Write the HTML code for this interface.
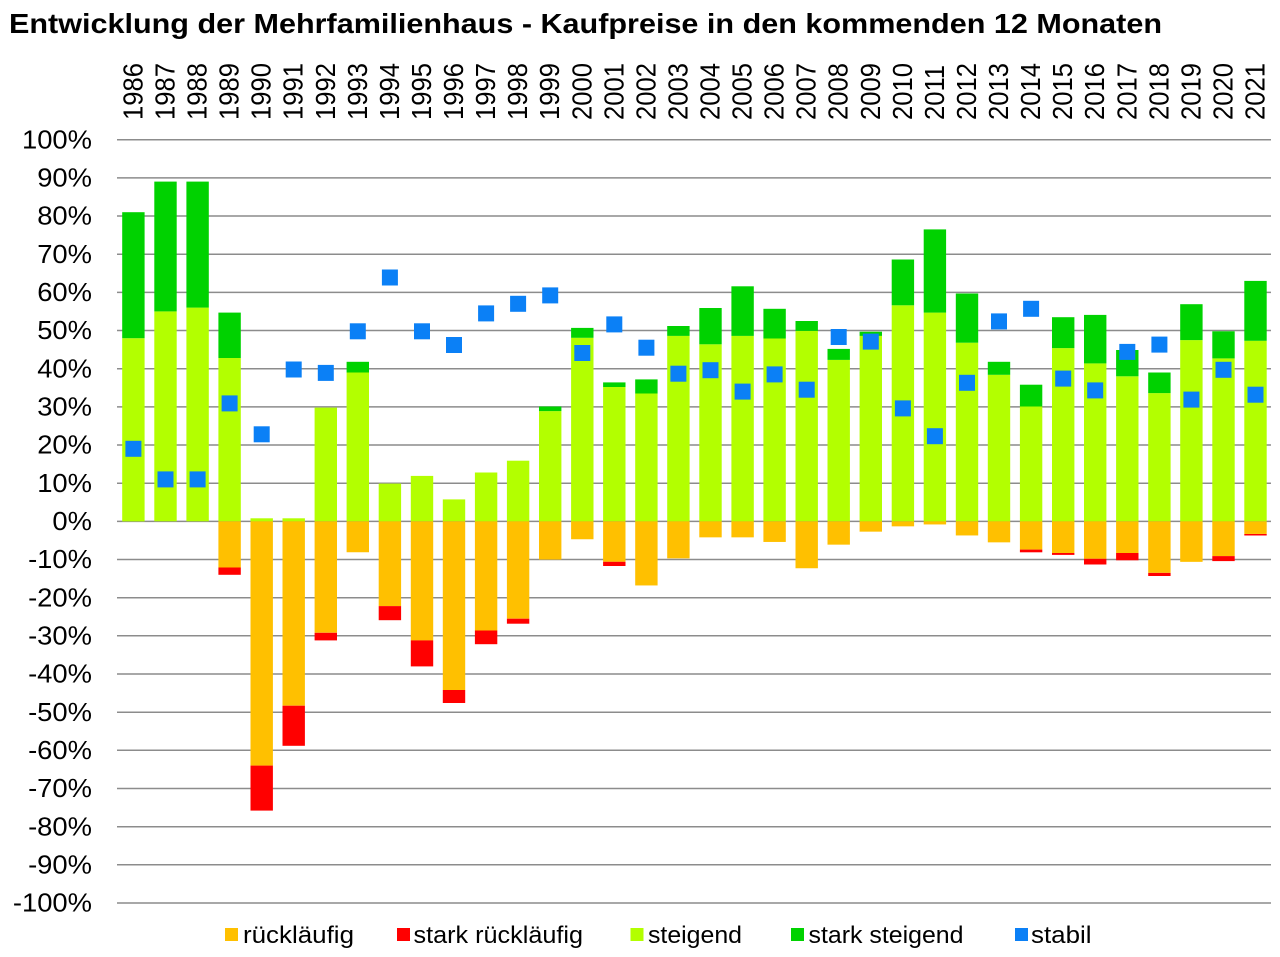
<!DOCTYPE html>
<html>
<head>
<meta charset="utf-8">
<style>
html,body{margin:0;padding:0;background:#fff}
svg{display:block}
</style>
</head>
<body>
<svg width="1280" height="957" viewBox="0 0 1280 957" xmlns="http://www.w3.org/2000/svg" font-family="'Liberation Sans', Arial, sans-serif">
<rect x="0" y="0" width="1280" height="957" fill="#fff"/>

<!-- Title -->
<text x="9" y="33" font-size="28" font-weight="bold" fill="#000" textLength="1153" lengthAdjust="spacingAndGlyphs">Entwicklung der Mehrfamilienhaus - Kaufpreise in den kommenden 12 Monaten</text>

<!-- Gridlines -->
<g stroke="#8c8c8c" stroke-width="1.5">
<line x1="117" x2="1271" y1="139.7" y2="139.7"/>
<line x1="117" x2="1271" y1="177.9" y2="177.9"/>
<line x1="117" x2="1271" y1="216.0" y2="216.0"/>
<line x1="117" x2="1271" y1="254.2" y2="254.2"/>
<line x1="117" x2="1271" y1="292.4" y2="292.4"/>
<line x1="117" x2="1271" y1="330.5" y2="330.5"/>
<line x1="117" x2="1271" y1="368.7" y2="368.7"/>
<line x1="117" x2="1271" y1="406.9" y2="406.9"/>
<line x1="117" x2="1271" y1="445.0" y2="445.0"/>
<line x1="117" x2="1271" y1="483.2" y2="483.2"/>
<line x1="117" x2="1271" y1="521.4" y2="521.4"/>
<line x1="117" x2="1271" y1="559.5" y2="559.5"/>
<line x1="117" x2="1271" y1="597.7" y2="597.7"/>
<line x1="117" x2="1271" y1="635.8" y2="635.8"/>
<line x1="117" x2="1271" y1="674.0" y2="674.0"/>
<line x1="117" x2="1271" y1="712.2" y2="712.2"/>
<line x1="117" x2="1271" y1="750.3" y2="750.3"/>
<line x1="117" x2="1271" y1="788.5" y2="788.5"/>
<line x1="117" x2="1271" y1="826.7" y2="826.7"/>
<line x1="117" x2="1271" y1="864.8" y2="864.8"/>
<line x1="117" x2="1271" y1="903.0" y2="903.0"/>
</g>

<!-- Y axis labels -->
<g font-size="25.6" fill="#000" text-anchor="end">
<text transform="translate(92 148.4) scale(1.07 1)">100%</text>
<text transform="translate(92 186.6) scale(1.07 1)">90%</text>
<text transform="translate(92 224.7) scale(1.07 1)">80%</text>
<text transform="translate(92 262.9) scale(1.07 1)">70%</text>
<text transform="translate(92 301.1) scale(1.07 1)">60%</text>
<text transform="translate(92 339.2) scale(1.07 1)">50%</text>
<text transform="translate(92 377.4) scale(1.07 1)">40%</text>
<text transform="translate(92 415.6) scale(1.07 1)">30%</text>
<text transform="translate(92 453.7) scale(1.07 1)">20%</text>
<text transform="translate(92 491.9) scale(1.07 1)">10%</text>
<text transform="translate(92 530.1) scale(1.07 1)">0%</text>
<text transform="translate(92 568.2) scale(1.07 1)">-10%</text>
<text transform="translate(92 606.4) scale(1.07 1)">-20%</text>
<text transform="translate(92 644.5) scale(1.07 1)">-30%</text>
<text transform="translate(92 682.7) scale(1.07 1)">-40%</text>
<text transform="translate(92 720.9) scale(1.07 1)">-50%</text>
<text transform="translate(92 759.0) scale(1.07 1)">-60%</text>
<text transform="translate(92 797.2) scale(1.07 1)">-70%</text>
<text transform="translate(92 835.4) scale(1.07 1)">-80%</text>
<text transform="translate(92 873.5) scale(1.07 1)">-90%</text>
<text transform="translate(92 911.7) scale(1.07 1)">-100%</text>
</g>

<!-- Year labels -->
<g font-size="25.6" fill="#000">
<text transform="translate(142.4 120) scale(1.07 1) rotate(-90)">1986</text>
<text transform="translate(174.5 120) scale(1.07 1) rotate(-90)">1987</text>
<text transform="translate(206.6 120) scale(1.07 1) rotate(-90)">1988</text>
<text transform="translate(238.6 120) scale(1.07 1) rotate(-90)">1989</text>
<text transform="translate(270.7 120) scale(1.07 1) rotate(-90)">1990</text>
<text transform="translate(302.7 120) scale(1.07 1) rotate(-90)">1991</text>
<text transform="translate(334.8 120) scale(1.07 1) rotate(-90)">1992</text>
<text transform="translate(366.8 120) scale(1.07 1) rotate(-90)">1993</text>
<text transform="translate(398.9 120) scale(1.07 1) rotate(-90)">1994</text>
<text transform="translate(431.0 120) scale(1.07 1) rotate(-90)">1995</text>
<text transform="translate(463.0 120) scale(1.07 1) rotate(-90)">1996</text>
<text transform="translate(495.1 120) scale(1.07 1) rotate(-90)">1997</text>
<text transform="translate(527.1 120) scale(1.07 1) rotate(-90)">1998</text>
<text transform="translate(559.2 120) scale(1.07 1) rotate(-90)">1999</text>
<text transform="translate(591.3 120) scale(1.07 1) rotate(-90)">2000</text>
<text transform="translate(623.3 120) scale(1.07 1) rotate(-90)">2001</text>
<text transform="translate(655.4 120) scale(1.07 1) rotate(-90)">2002</text>
<text transform="translate(687.4 120) scale(1.07 1) rotate(-90)">2003</text>
<text transform="translate(719.5 120) scale(1.07 1) rotate(-90)">2004</text>
<text transform="translate(751.6 120) scale(1.07 1) rotate(-90)">2005</text>
<text transform="translate(783.6 120) scale(1.07 1) rotate(-90)">2006</text>
<text transform="translate(815.7 120) scale(1.07 1) rotate(-90)">2007</text>
<text transform="translate(847.7 120) scale(1.07 1) rotate(-90)">2008</text>
<text transform="translate(879.8 120) scale(1.07 1) rotate(-90)">2009</text>
<text transform="translate(911.9 120) scale(1.07 1) rotate(-90)">2010</text>
<text transform="translate(943.9 120) scale(1.07 1) rotate(-90)">2011</text>
<text transform="translate(976.0 120) scale(1.07 1) rotate(-90)">2012</text>
<text transform="translate(1008.0 120) scale(1.07 1) rotate(-90)">2013</text>
<text transform="translate(1040.1 120) scale(1.07 1) rotate(-90)">2014</text>
<text transform="translate(1072.2 120) scale(1.07 1) rotate(-90)">2015</text>
<text transform="translate(1104.2 120) scale(1.07 1) rotate(-90)">2016</text>
<text transform="translate(1136.3 120) scale(1.07 1) rotate(-90)">2017</text>
<text transform="translate(1168.4 120) scale(1.07 1) rotate(-90)">2018</text>
<text transform="translate(1200.4 120) scale(1.07 1) rotate(-90)">2019</text>
<text transform="translate(1232.5 120) scale(1.07 1) rotate(-90)">2020</text>
<text transform="translate(1264.5 120) scale(1.07 1) rotate(-90)">2021</text>
</g>

<!-- steigend -->
<g fill="#b3ff00">
<rect x="122.2" y="338.2" width="22.4" height="183.2"/>
<rect x="154.3" y="311.4" width="22.4" height="209.9"/>
<rect x="186.4" y="307.6" width="22.4" height="213.7"/>
<rect x="218.4" y="358.0" width="22.4" height="163.3"/>
<rect x="250.5" y="518.3" width="22.4" height="3.1"/>
<rect x="282.5" y="518.3" width="22.4" height="3.1"/>
<rect x="314.6" y="407.6" width="22.4" height="113.7"/>
<rect x="346.6" y="372.5" width="22.4" height="148.8"/>
<rect x="378.7" y="483.6" width="22.4" height="37.8"/>
<rect x="410.8" y="475.9" width="22.4" height="45.4"/>
<rect x="442.8" y="499.4" width="22.4" height="21.9"/>
<rect x="474.9" y="472.5" width="22.4" height="48.9"/>
<rect x="506.9" y="460.7" width="22.4" height="60.7"/>
<rect x="539.0" y="411.1" width="22.4" height="110.3"/>
<rect x="571.1" y="337.8" width="22.4" height="183.6"/>
<rect x="603.1" y="387.0" width="22.4" height="134.3"/>
<rect x="635.2" y="393.5" width="22.4" height="127.9"/>
<rect x="667.2" y="335.9" width="22.4" height="185.5"/>
<rect x="699.3" y="344.3" width="22.4" height="177.1"/>
<rect x="731.4" y="335.9" width="22.4" height="185.5"/>
<rect x="763.4" y="338.5" width="22.4" height="182.8"/>
<rect x="795.5" y="330.9" width="22.4" height="190.4"/>
<rect x="827.5" y="359.9" width="22.4" height="161.4"/>
<rect x="859.6" y="335.9" width="22.4" height="185.5"/>
<rect x="891.7" y="305.3" width="22.4" height="216.0"/>
<rect x="923.7" y="312.6" width="22.4" height="208.8"/>
<rect x="955.8" y="342.7" width="22.4" height="178.6"/>
<rect x="987.8" y="374.8" width="22.4" height="146.6"/>
<rect x="1019.9" y="406.5" width="22.4" height="114.9"/>
<rect x="1052.0" y="348.1" width="22.4" height="173.3"/>
<rect x="1084.0" y="363.4" width="22.4" height="158.0"/>
<rect x="1116.1" y="376.3" width="22.4" height="145.0"/>
<rect x="1148.2" y="393.1" width="22.4" height="128.2"/>
<rect x="1180.2" y="340.1" width="22.4" height="181.3"/>
<rect x="1212.3" y="358.4" width="22.4" height="163.0"/>
<rect x="1244.3" y="340.8" width="22.4" height="180.5"/>
</g>

<!-- stark steigend -->
<g fill="#00d200">
<rect x="122.2" y="212.2" width="22.4" height="126.0"/>
<rect x="154.3" y="181.6" width="22.4" height="129.8"/>
<rect x="186.4" y="181.6" width="22.4" height="126.0"/>
<rect x="218.4" y="312.6" width="22.4" height="45.4"/>
<rect x="346.6" y="361.8" width="22.4" height="10.7"/>
<rect x="539.0" y="406.5" width="22.4" height="4.6"/>
<rect x="571.1" y="327.9" width="22.4" height="9.9"/>
<rect x="603.1" y="382.4" width="22.4" height="4.6"/>
<rect x="635.2" y="379.4" width="22.4" height="14.1"/>
<rect x="667.2" y="326.0" width="22.4" height="9.9"/>
<rect x="699.3" y="308.0" width="22.4" height="36.3"/>
<rect x="731.4" y="286.3" width="22.4" height="49.6"/>
<rect x="763.4" y="308.8" width="22.4" height="29.7"/>
<rect x="795.5" y="321.0" width="22.4" height="9.9"/>
<rect x="827.5" y="348.9" width="22.4" height="11.0"/>
<rect x="859.6" y="331.7" width="22.4" height="4.2"/>
<rect x="891.7" y="259.5" width="22.4" height="45.8"/>
<rect x="923.7" y="229.4" width="22.4" height="83.2"/>
<rect x="955.8" y="293.5" width="22.4" height="49.2"/>
<rect x="987.8" y="361.8" width="22.4" height="13.0"/>
<rect x="1019.9" y="384.7" width="22.4" height="21.8"/>
<rect x="1052.0" y="317.2" width="22.4" height="30.9"/>
<rect x="1084.0" y="314.9" width="22.4" height="48.5"/>
<rect x="1116.1" y="350.0" width="22.4" height="26.3"/>
<rect x="1148.2" y="372.5" width="22.4" height="20.6"/>
<rect x="1180.2" y="304.2" width="22.4" height="35.9"/>
<rect x="1212.3" y="331.3" width="22.4" height="27.1"/>
<rect x="1244.3" y="280.9" width="22.4" height="59.9"/>
</g>

<!-- rückläufig -->
<g fill="#ffc000">
<rect x="218.4" y="521.35" width="22.4" height="46.2"/>
<rect x="250.5" y="521.35" width="22.4" height="244.3"/>
<rect x="282.5" y="521.35" width="22.4" height="184.3"/>
<rect x="314.6" y="521.35" width="22.4" height="111.4"/>
<rect x="346.6" y="521.35" width="22.4" height="30.9"/>
<rect x="378.7" y="521.35" width="22.4" height="84.7"/>
<rect x="410.8" y="521.35" width="22.4" height="119.1"/>
<rect x="442.8" y="521.35" width="22.4" height="168.7"/>
<rect x="474.9" y="521.35" width="22.4" height="109.2"/>
<rect x="506.9" y="521.35" width="22.4" height="97.3"/>
<rect x="539.0" y="521.35" width="22.4" height="38.2"/>
<rect x="571.1" y="521.35" width="22.4" height="17.9"/>
<rect x="603.1" y="521.35" width="22.4" height="40.5"/>
<rect x="635.2" y="521.35" width="22.4" height="64.1"/>
<rect x="667.2" y="521.35" width="22.4" height="37.0"/>
<rect x="699.3" y="521.35" width="22.4" height="16.0"/>
<rect x="731.4" y="521.35" width="22.4" height="16.0"/>
<rect x="763.4" y="521.35" width="22.4" height="20.6"/>
<rect x="795.5" y="521.35" width="22.4" height="46.9"/>
<rect x="827.5" y="521.35" width="22.4" height="23.3"/>
<rect x="859.6" y="521.35" width="22.4" height="10.3"/>
<rect x="891.7" y="521.35" width="22.4" height="5.0"/>
<rect x="923.7" y="521.35" width="22.4" height="3.1"/>
<rect x="955.8" y="521.35" width="22.4" height="14.1"/>
<rect x="987.8" y="521.35" width="22.4" height="21.0"/>
<rect x="1019.9" y="521.35" width="22.4" height="28.2"/>
<rect x="1052.0" y="521.35" width="22.4" height="31.7"/>
<rect x="1084.0" y="521.35" width="22.4" height="37.4"/>
<rect x="1116.1" y="521.35" width="22.4" height="31.7"/>
<rect x="1148.2" y="521.35" width="22.4" height="51.5"/>
<rect x="1180.2" y="521.35" width="22.4" height="40.5"/>
<rect x="1212.3" y="521.35" width="22.4" height="34.7"/>
<rect x="1244.3" y="521.35" width="22.4" height="12.6"/>
</g>

<!-- stark rückläufig -->
<g fill="#ff0000">
<rect x="218.4" y="567.5" width="22.4" height="7.3"/>
<rect x="250.5" y="765.6" width="22.4" height="45.0"/>
<rect x="282.5" y="705.7" width="22.4" height="40.1"/>
<rect x="314.6" y="632.8" width="22.4" height="7.6"/>
<rect x="378.7" y="606.1" width="22.4" height="14.1"/>
<rect x="410.8" y="640.4" width="22.4" height="26.0"/>
<rect x="442.8" y="690.0" width="22.4" height="13.0"/>
<rect x="474.9" y="630.5" width="22.4" height="13.7"/>
<rect x="506.9" y="618.7" width="22.4" height="5.0"/>
<rect x="603.1" y="561.8" width="22.4" height="4.2"/>
<rect x="1019.9" y="549.6" width="22.4" height="2.7"/>
<rect x="1052.0" y="553.0" width="22.4" height="1.9"/>
<rect x="1084.0" y="558.8" width="22.4" height="5.7"/>
<rect x="1116.1" y="553.0" width="22.4" height="7.3"/>
<rect x="1148.2" y="572.9" width="22.4" height="3.1"/>
<rect x="1212.3" y="556.1" width="22.4" height="5.0"/>
<rect x="1244.3" y="534.0" width="22.4" height="1.5"/>
</g>

<!-- stabil markers -->
<g fill="#0b80f6">
<rect x="125.4" y="440.8" width="16" height="16"/>
<rect x="157.5" y="471.4" width="16" height="16"/>
<rect x="189.6" y="471.4" width="16" height="16"/>
<rect x="221.6" y="395.4" width="16" height="16"/>
<rect x="253.7" y="426.3" width="16" height="16"/>
<rect x="285.7" y="361.5" width="16" height="16"/>
<rect x="317.8" y="364.9" width="16" height="16"/>
<rect x="349.8" y="323.3" width="16" height="16"/>
<rect x="381.9" y="269.5" width="16" height="16"/>
<rect x="414.0" y="323.3" width="16" height="16"/>
<rect x="446.0" y="337.0" width="16" height="16"/>
<rect x="478.1" y="305.4" width="16" height="16"/>
<rect x="510.1" y="295.8" width="16" height="16"/>
<rect x="542.2" y="287.4" width="16" height="16"/>
<rect x="574.3" y="345.0" width="16" height="16"/>
<rect x="606.3" y="316.4" width="16" height="16"/>
<rect x="638.4" y="339.7" width="16" height="16"/>
<rect x="670.4" y="365.7" width="16" height="16"/>
<rect x="702.5" y="362.2" width="16" height="16"/>
<rect x="734.6" y="383.6" width="16" height="16"/>
<rect x="766.6" y="366.4" width="16" height="16"/>
<rect x="798.7" y="381.7" width="16" height="16"/>
<rect x="830.7" y="329.0" width="16" height="16"/>
<rect x="862.8" y="333.6" width="16" height="16"/>
<rect x="894.9" y="400.4" width="16" height="16"/>
<rect x="926.9" y="428.2" width="16" height="16"/>
<rect x="959.0" y="374.8" width="16" height="16"/>
<rect x="991.0" y="313.4" width="16" height="16"/>
<rect x="1023.1" y="300.8" width="16" height="16"/>
<rect x="1055.2" y="370.6" width="16" height="16"/>
<rect x="1087.2" y="382.4" width="16" height="16"/>
<rect x="1119.3" y="343.9" width="16" height="16"/>
<rect x="1151.4" y="336.6" width="16" height="16"/>
<rect x="1183.4" y="391.6" width="16" height="16"/>
<rect x="1215.5" y="361.8" width="16" height="16"/>
<rect x="1247.5" y="386.7" width="16" height="16"/>
</g>

<!-- Legend -->
<rect x="225" y="928" width="13" height="13" fill="#ffc000"/>
<rect x="397" y="928" width="13" height="13" fill="#ff0000"/>
<rect x="630.5" y="928" width="13" height="13" fill="#b3ff00"/>
<rect x="791" y="928" width="13" height="13" fill="#00d200"/>
<rect x="1015" y="928" width="13" height="13" fill="#0b80f6"/>
<g font-size="24.5" fill="#000">
<text x="243" y="943" textLength="111" lengthAdjust="spacingAndGlyphs">rückläufig</text>
<text x="413.5" y="943" textLength="169.5" lengthAdjust="spacingAndGlyphs">stark rückläufig</text>
<text x="648" y="943" textLength="94" lengthAdjust="spacingAndGlyphs">steigend</text>
<text x="808.5" y="943" textLength="155" lengthAdjust="spacingAndGlyphs">stark steigend</text>
<text x="1031" y="943" textLength="60.5" lengthAdjust="spacingAndGlyphs">stabil</text>
</g>
</svg>
</body>
</html>
